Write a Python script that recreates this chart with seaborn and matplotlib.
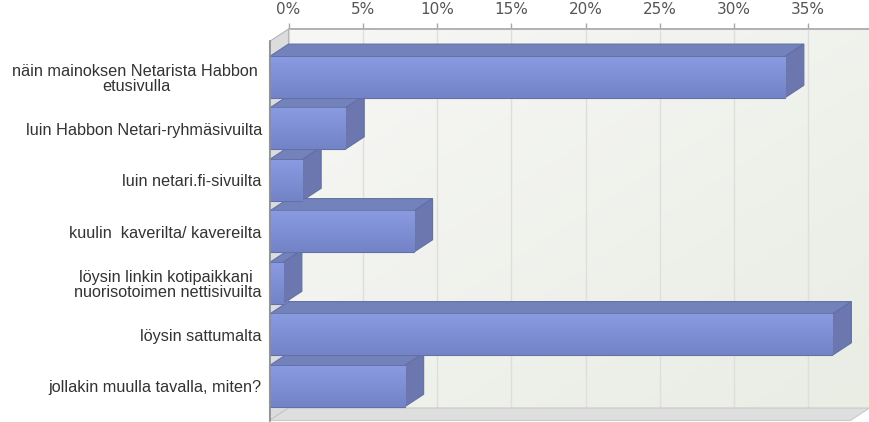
import numpy as np
import matplotlib
matplotlib.use('Agg')
import matplotlib.pyplot as plt
from matplotlib.patches import Polygon
from matplotlib.colors import LinearSegmentedColormap
import seaborn as sns

# answers (Finnish survey) and their shares in percent
labels = [
    'näin mainoksen Netarista Habbon \netusivulla',
    'luin Habbon Netari-ryhmäsivuilta',
    'luin netari.fi-sivuilta',
    'kuulin  kaverilta/ kavereilta',
    'löysin linkin kotipaikkani \nnuorisotoimen nettisivuilta',
    'löysin sattumalta',
    'jollakin muulla tavalla, miten?',
]
shares = [34.7, 5.1, 2.2, 9.7, 0.9, 37.9, 9.1]
ticks = [0, 5, 10, 15, 20, 25, 30, 35]
tick_labels = ['%d%%' % t for t in ticks]

W, H = 869, 422
DX, DY = 19, 12.5          # 3d depth offset in pixels
XMAX = 39.12
YLIM = (6.666, -0.693)
PLOT_W, PLOT_H = 581, 379

FRONT = '#8090d8'
TOP = '#7382ba'
SIDE = '#6b77ae'
EDGE = '#6270a8'

sns.set_theme(style='white')
plt.rcParams['font.family'] = ['Liberation Sans', 'DejaVu Sans']

fig = plt.figure(figsize=(W / 100, H / 100), dpi=100)
fig.patch.set_facecolor('white')

ddx = DX / (PLOT_W / XMAX)
ddy = DY / (PLOT_H / (YLIM[0] - YLIM[1]))

# back wall with the percent axis on top
axb = fig.add_axes([288.5 / W, (H - 408) / H, PLOT_W / W, PLOT_H / H])
grad = np.linspace(0, 1, 100)[None, :] + np.linspace(0, 1, 100)[:, None]
wall_cmap = LinearSegmentedColormap.from_list('wall', ['#f7f7f5', '#e9ede4'])
axb.imshow(grad, extent=(0, XMAX, YLIM[0], YLIM[1]), aspect='auto',
           cmap=wall_cmap, zorder=0)
axb.set_xlim(0, XMAX)
axb.set_ylim(*YLIM)
axb.set_xticks(ticks, tick_labels)
axb.set_yticks([])
axb.xaxis.tick_top()
axb.grid(axis='x', color='#dedede', lw=1)
axb.set_axisbelow(False)
axb.tick_params(axis='x', top=True, bottom=False, length=4, width=1,
                color='#a8a8a8', pad=4.5, labelsize=11, labelcolor='#555555')
for t in axb.get_xticklabels():
    t.set_family('DejaVu Sans')
for s in ['left', 'right', 'bottom']:
    axb.spines[s].set_visible(False)
axb.spines['top'].set_color('#a8a8a8')

# front plane with the bars
ax = fig.add_axes([269.5 / W, (H - 420.5) / H, PLOT_W / W, PLOT_H / H])
ax.patch.set_alpha(0)
sns.barplot(x=shares, y=labels, orient='h', color=FRONT, saturation=1,
            width=0.8, edgecolor=EDGE, linewidth=0.8, ax=ax, zorder=3)

y_top, y_bot = YLIM[1], YLIM[0]
# left wall and floor
ax.add_patch(Polygon([(0, y_top), (0, y_bot), (ddx, y_bot - ddy), (ddx, y_top - ddy)],
                     closed=True, fc='#dcdcdc', ec='#b4b4b4', lw=0.8,
                     clip_on=False, zorder=1))
ax.add_patch(Polygon([(0, y_bot), (XMAX, y_bot), (XMAX + ddx, y_bot - ddy), (ddx, y_bot - ddy)],
                     closed=True, fc='#dedede', ec='#cacaca', lw=0.8,
                     clip_on=False, zorder=1))

face_cmap = LinearSegmentedColormap.from_list('face', ['#8b9be2', '#7383c6'])
for p in list(ax.patches):
    if not hasattr(p, 'get_width'):
        continue
    x0, y0 = p.get_x(), p.get_y()
    w, h = p.get_width(), p.get_height()
    y_up, y_lo = min(y0, y0 + h), max(y0, y0 + h)
    x1 = x0 + w
    top = Polygon([(x0, y_up), (x1, y_up), (x1 + ddx, y_up - ddy), (x0 + ddx, y_up - ddy)],
                  closed=True, fc=TOP, ec=EDGE, lw=0.8, clip_on=False, zorder=2)
    side = Polygon([(x1, y_up), (x1 + ddx, y_up - ddy), (x1 + ddx, y_lo - ddy), (x1, y_lo)],
                   closed=True, fc=SIDE, ec=EDGE, lw=0.8, clip_on=False, zorder=2)
    ax.add_patch(top)
    ax.add_patch(side)
    im = ax.imshow(np.linspace(0, 1, 50)[:, None], extent=(x0, x1, y_lo, y_up),
                   aspect='auto', cmap=face_cmap, zorder=3.5)
    im.set_clip_path(p)

ax.set_xlim(0, XMAX)
ax.set_ylim(*YLIM)
ax.set_xticks([])
ax.set_xlabel('')
ax.set_ylabel('')
for s in ['top', 'right', 'bottom']:
    ax.spines[s].set_visible(False)
ax.spines['left'].set_color('#909090')
ax.spines['left'].set_zorder(5)
ax.tick_params(axis='y', length=0, pad=5.5, labelsize=11.7, labelcolor='#333333')
for t in ax.get_yticklabels():
    t.set_multialignment('center')
    t.set_linespacing(1.05)

fig.savefig('out.png', dpi=100)
